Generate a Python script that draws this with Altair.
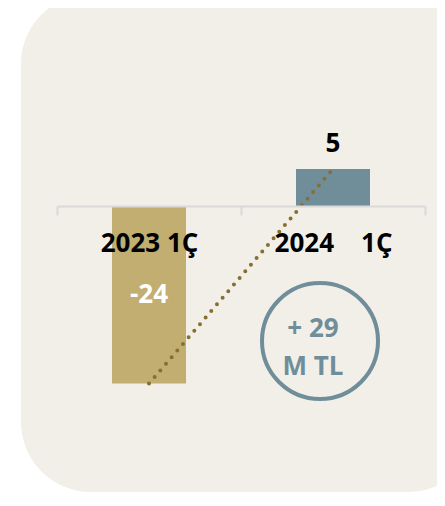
import altair as alt
import pandas as pd

# ---- data ----
categories = ["2023 1Ç", "2024\u00a0\u00a0\u00a0\u00a01Ç"]
values = [-24, 5]
bar_colors = ["#c2ae70", "#6f8e99"]
change_lines = ["+ 29", "M TL"]

W, H = 429, 484
ZERO_Y = 198          # svg pixel row of the zero line (plot-area height)
K = 7.4               # pixels per unit
FONT = "Open Sans"

bars_df = pd.DataFrame({"cat": categories, "value": values, "color": bar_colors})

x_scale = alt.Scale(domain=categories, range=[49, 417], paddingInner=0, paddingOuter=0)
y_scale = alt.Scale(domain=[-30, 10], range=[ZERO_Y + 30 * K, ZERO_Y - 10 * K],
                    zero=False, nice=False)

x_axis = alt.Axis(title=None, orient="bottom",
                  tickBand="extent", tickSize=9, tickWidth=2,
                  tickColor="#d9d9d9", domainColor="#d9d9d9", domainWidth=2,
                  labelFont=FONT, labelFontSize=26, labelFontWeight="bold",
                  labelColor="#000000", labelPadding=15, labelAngle=0,
                  grid=False, zindex=1)
x_enc = alt.X("cat:N", scale=x_scale, sort=categories, axis=x_axis)
y_enc = alt.Y("value:Q", scale=y_scale, axis=None)

# rounded panel background
bg = alt.Chart(pd.DataFrame({"a": [0]})).mark_rect(
    color="#f2efe9", cornerRadius=70
).encode(x=alt.value(13), x2=alt.value(470), y=alt.value(-14), y2=alt.value(H))

bars = alt.Chart(bars_df).mark_bar(width=74).encode(
    x=x_enc, y=y_enc, color=alt.Color("color:N", scale=None)
)

line = alt.Chart(bars_df).mark_line(
    color="#85702f", strokeWidth=4, strokeDash=[0, 8.7], strokeCap="round"
).encode(x=x_enc, y=y_enc)

pos_text = alt.Chart(bars_df).transform_filter("datum.value > 0").mark_text(
    font=FONT, fontSize=26, fontWeight="bold", color="#000000", dy=-25, baseline="middle"
).encode(x=x_enc, y=y_enc, text="value:N")

neg_text = alt.Chart(bars_df).transform_filter("datum.value < 0").transform_calculate(
    mid="datum.value / 2"
).mark_text(
    font=FONT, fontSize=26, fontWeight="bold", color="#ffffff", baseline="middle"
).encode(x=x_enc, y=alt.Y("mid:Q", scale=y_scale, axis=None), text="value:N")

circle = alt.Chart(pd.DataFrame({"a": [0]})).mark_point(
    shape="circle", filled=False, size=116 * 116, strokeWidth=4, color="#6f8e99", opacity=1
).encode(x=alt.value(312), y=alt.value(333))

circle_text = alt.Chart(pd.DataFrame({"a": [0]})).mark_text(
    text=change_lines, font=FONT, fontSize=26, fontWeight="bold", color="#6f8e99",
    lineHeight=38, baseline="middle"
).encode(x=alt.value(305), y=alt.value(321))

chart = alt.layer(bg, circle, circle_text, bars, line, pos_text, neg_text).properties(
    width=W, height=ZERO_Y,
    padding={"left": 0, "top": 0, "right": 0, "bottom": H - ZERO_Y},
    autosize=alt.AutoSizeParams(type="none")
).configure_view(stroke=None)

chart.save("out.html", embed_options={"renderer": "svg", "actions": False})
